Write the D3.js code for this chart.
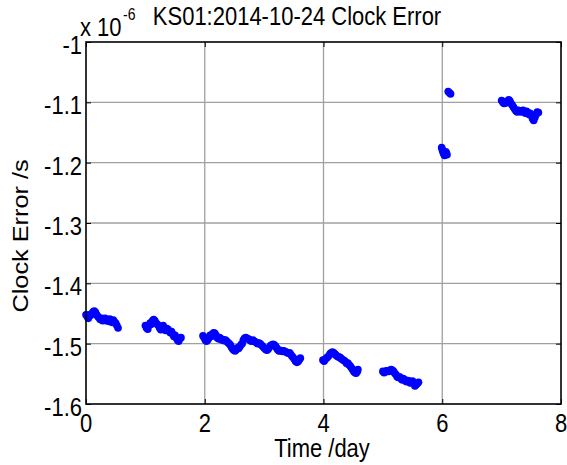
<!DOCTYPE html>
<html><head><meta charset="utf-8">
<script src="https://cdn.jsdelivr.net/npm/d3@7"></script>
<style>
body{margin:0;background:#fff;}
text{font-family:"Liberation Sans",Arial,sans-serif;fill:#000;}
</style></head>
<body><svg id="chart" width="567" height="465"></svg>
<script>
// ---- data (Clock error in units of 1e-6 s) ----
const xTicks = [0, 2, 4, 6, 8];
const yTicks = [-1, -1.1, -1.2, -1.3, -1.4, -1.5, -1.6];
const yTickLabels = ["-1", "-1.1", "-1.2", "-1.3", "-1.4", "-1.5", "-1.6"];

const seg1T = [0.00,0.02,0.04,0.06,0.08,0.10,0.12,0.14,0.16,0.18,0.20,0.22,0.24,0.26,0.28,0.30,0.32,0.34,0.36,0.38,0.40,0.42,0.44,0.46,0.48,0.50,0.52,0.54];
const seg1V = [-1.452,-1.455,-1.458,-1.452,-1.453,-1.450,-1.447,-1.446,-1.448,-1.452,-1.455,-1.457,-1.460,-1.458,-1.462,-1.461,-1.458,-1.462,-1.460,-1.463,-1.459,-1.462,-1.465,-1.461,-1.464,-1.466,-1.470,-1.474];

const seg2T = [1.00,1.02,1.04,1.06,1.08,1.10,1.12,1.14,1.16,1.18,1.20,1.22,1.24,1.26,1.28,1.30,1.32,1.34,1.36,1.38,1.40,1.42,1.44,1.46,1.48,1.50,1.52,1.54,1.56,1.58,1.60];
const seg2V = [-1.470,-1.474,-1.476,-1.470,-1.466,-1.468,-1.462,-1.460,-1.462,-1.466,-1.468,-1.470,-1.474,-1.477,-1.472,-1.470,-1.474,-1.478,-1.475,-1.476,-1.479,-1.482,-1.480,-1.484,-1.488,-1.486,-1.490,-1.494,-1.496,-1.492,-1.490];

const seg3T = [1.97,1.99,2.01,2.03,2.05,2.07,2.09,2.11,2.13,2.15,2.17,2.19,2.21,2.23,2.25,2.27,2.29,2.31,2.33,2.35,2.37,2.39,2.41,2.43,2.45,2.47,2.49,2.51,2.53,2.55,2.57,2.59,2.61,2.63,2.65,2.67,2.69,2.71,2.73,2.75,2.77,2.79,2.81,2.83,2.85,2.87,2.89,2.91,2.93,2.95,2.97,2.99,3.01,3.03,3.05,3.07,3.09,3.11,3.13,3.15,3.17,3.19,3.21,3.23,3.25,3.27,3.29,3.31,3.33,3.35,3.37,3.39,3.41,3.43,3.45,3.47,3.49,3.51,3.53,3.55,3.57,3.59,3.61];
const seg3V = [-1.487,-1.490,-1.494,-1.496,-1.494,-1.490,-1.486,-1.488,-1.484,-1.482,-1.483,-1.486,-1.490,-1.492,-1.490,-1.492,-1.494,-1.493,-1.495,-1.494,-1.496,-1.498,-1.500,-1.502,-1.506,-1.509,-1.511,-1.512,-1.510,-1.507,-1.508,-1.505,-1.502,-1.500,-1.494,-1.491,-1.490,-1.491,-1.492,-1.493,-1.495,-1.496,-1.494,-1.496,-1.497,-1.498,-1.500,-1.499,-1.500,-1.502,-1.504,-1.506,-1.508,-1.510,-1.511,-1.509,-1.506,-1.503,-1.502,-1.501,-1.502,-1.504,-1.507,-1.510,-1.512,-1.511,-1.512,-1.513,-1.512,-1.513,-1.514,-1.515,-1.516,-1.515,-1.518,-1.521,-1.523,-1.526,-1.529,-1.531,-1.530,-1.527,-1.524];

const seg4T = [3.99,4.01,4.03,4.05,4.07,4.09,4.11,4.13,4.15,4.17,4.19,4.21,4.23,4.25,4.27,4.29,4.31,4.33,4.35,4.37,4.39,4.41,4.43,4.45,4.47,4.49,4.51,4.53,4.55,4.57,4.58];
const seg4V = [-1.527,-1.529,-1.526,-1.524,-1.522,-1.520,-1.517,-1.515,-1.514,-1.515,-1.517,-1.519,-1.521,-1.522,-1.522,-1.524,-1.526,-1.527,-1.528,-1.530,-1.533,-1.532,-1.535,-1.537,-1.540,-1.543,-1.546,-1.548,-1.549,-1.546,-1.543];

const seg5T = [5.00,5.02,5.04,5.06,5.08,5.10,5.12,5.14,5.16,5.18,5.20,5.22,5.24,5.26,5.28,5.30,5.32,5.34,5.36,5.38,5.40,5.42,5.44,5.46,5.48,5.50,5.52,5.54,5.56,5.58,5.60];
const seg5V = [-1.546,-1.548,-1.547,-1.545,-1.545,-1.546,-1.544,-1.543,-1.544,-1.546,-1.549,-1.551,-1.555,-1.556,-1.555,-1.557,-1.560,-1.558,-1.559,-1.562,-1.563,-1.561,-1.562,-1.565,-1.563,-1.562,-1.566,-1.570,-1.568,-1.566,-1.564];

const seg6T = [5.99,6.00,6.01,6.02,6.03,6.04,6.05,6.06,6.07,6.08];
const seg6V = [-1.175,-1.178,-1.181,-1.184,-1.186,-1.188,-1.185,-1.182,-1.184,-1.187];

const seg7T = [6.10,6.12,6.14];
const seg7V = [-1.082,-1.084,-1.086];

const seg8T = [7.00,7.02,7.04,7.06,7.08,7.10,7.12,7.14,7.16,7.18,7.20,7.22,7.24,7.26,7.28,7.30,7.32,7.34,7.36,7.38,7.40,7.42,7.44,7.46,7.48,7.50,7.52,7.54,7.56,7.58,7.60,7.62];
const seg8V = [-1.097,-1.100,-1.102,-1.099,-1.101,-1.098,-1.096,-1.098,-1.102,-1.105,-1.108,-1.111,-1.114,-1.116,-1.113,-1.114,-1.116,-1.114,-1.113,-1.116,-1.118,-1.115,-1.117,-1.120,-1.118,-1.122,-1.127,-1.130,-1.125,-1.120,-1.116,-1.117];

const segT = [seg1T, seg2T, seg3T, seg4T, seg5T, seg6T, seg7T, seg8T];
const segV = [seg1V, seg2V, seg3V, seg4V, seg5V, seg6V, seg7V, seg8V];
const points = [];
segT.forEach((ts, i) => ts.forEach((t, j) => points.push({t: t, v: segV[i][j]})));

// ---- layout ----
const L = 86, R = 561, T = 42, B = 404;
const svg = d3.select("#chart");
const x = d3.scaleLinear().domain([0, 8]).range([L, R]);
const y = d3.scaleLinear().domain([-1.6, -1]).range([B, T]);
const FS = 22, SY = 1.15;

// grid
svg.append("g").selectAll("line.gx").data(xTicks.slice(1, -1)).join("line")
  .attr("x1", d => x(d)).attr("x2", d => x(d)).attr("y1", T).attr("y2", B)
  .attr("stroke", "#a0a0a0").attr("stroke-width", 1.3);
svg.append("g").selectAll("line.gy").data(yTicks.slice(1, -1)).join("line")
  .attr("y1", d => y(d)).attr("y2", d => y(d)).attr("x1", L).attr("x2", R)
  .attr("stroke", "#a0a0a0").attr("stroke-width", 1.3);

// points
svg.append("g").selectAll("circle").data(points).join("circle")
  .attr("cx", d => x(d.t)).attr("cy", d => y(d.v)).attr("r", 3.8)
  .attr("fill", "#0000ff");

// axes (ticks inward on all sides)
const ax = g => g.selectAll(".domain").remove();
svg.append("g").attr("transform", `translate(0,${B})`)
  .call(d3.axisBottom(x).tickValues(xTicks).tickSize(-5).tickFormat("")).call(ax);
svg.append("g").attr("transform", `translate(0,${T})`)
  .call(d3.axisTop(x).tickValues(xTicks).tickSize(-5).tickFormat("")).call(ax);
svg.append("g").attr("transform", `translate(${L},0)`)
  .call(d3.axisLeft(y).tickValues(yTicks).tickSize(-5).tickFormat("")).call(ax);
svg.append("g").attr("transform", `translate(${R},0)`)
  .call(d3.axisRight(y).tickValues(yTicks).tickSize(-5).tickFormat("")).call(ax);
svg.selectAll(".tick line").attr("stroke", "#000").attr("stroke-width", 1);

svg.append("rect").attr("x", L).attr("y", T).attr("width", R - L).attr("height", B - T)
  .attr("fill", "none").attr("stroke", "#000").attr("stroke-width", 1.6);

// tick labels
function stretched(parent, tx, ty, str, anchor, size) {
  return parent.append("text")
    .attr("transform", `translate(${tx},${ty}) scale(1,${SY})`)
    .attr("text-anchor", anchor).attr("font-size", size || FS).text(str);
}
const lab = svg.append("g");
xTicks.forEach(d => stretched(lab, x(d), 432, String(d), "middle"));
yTicks.forEach((d, i) => stretched(lab, L - 4, y(d) + 12, yTickLabels[i], "end"));

// exponent
stretched(lab, 80, 36, "x 10", "start");
stretched(lab, 123, 20, "-6", "start", 14);

// title and labels
stretched(svg, 297, 25, "KS01:2014-10-24 Clock Error", "middle");
stretched(svg, 322, 457, "Time /day", "middle");
svg.append("text").attr("transform", `translate(28,236) rotate(-90) scale(${SY},1)`)
  .attr("text-anchor", "middle").attr("font-size", FS).text("Clock Error /s");
</script></body></html>
